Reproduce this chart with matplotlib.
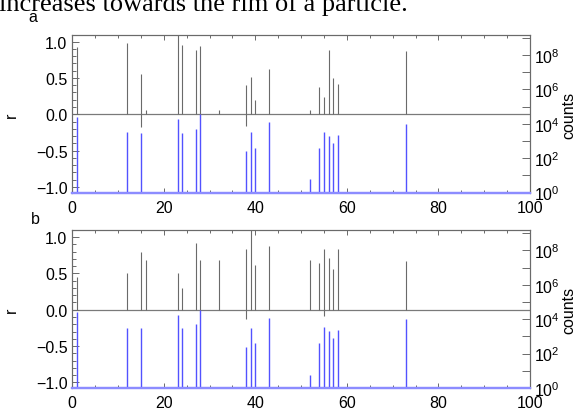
import matplotlib
matplotlib.use('Agg')
import matplotlib.pyplot as plt
from matplotlib.ticker import MultipleLocator, FixedLocator, FixedFormatter, NullLocator

plt.rcParams['font.family'] = ['Liberation Sans', 'DejaVu Sans']
plt.rcParams['mathtext.fontset'] = 'custom'
plt.rcParams['mathtext.rm'] = 'Liberation Sans'
plt.rcParams['mathtext.it'] = 'Liberation Sans'

# ---------------- data ----------------
x_pos = [1, 12, 15, 16, 23, 24, 27, 28, 32, 38, 39, 40, 43, 52, 54, 55, 56, 57, 58, 73]

r_a = [0.93, 0.98, 0.56, 0.06, 1.10, 0.96, 0.89, 0.94, 0.06, 0.41,
       0.52, 0.19, 0.62, 0.06, 0.38, 0.24, 0.89, 0.50, 0.42, 0.87]
r_b = [0.45, 0.51, 0.79, 0.69, 0.51, 0.30, 0.92, 0.69, 0.69, 0.83,
       1.10, 0.61, 0.88, 0.69, 0.64, 0.84, 0.71, 0.56, 0.83, 0.67]

neg_x_a = [15, 38]
neg_r_a = [-0.17, -0.16]
neg_x_b = [38, 55]
neg_r_b = [-0.13, -0.09]

count_x = [1, 12, 15, 23, 24, 27, 28, 38, 39, 40, 43, 52, 54, 55, 56, 57, 58, 73]
counts = [25000, 3200, 2900, 18000, 2900, 5200, 36000, 250, 3200, 410,
          12000, 6, 390, 3500, 2000, 780, 2300, 10000]

r_ticks = [-1.0, -0.5, 0.0, 0.5, 1.0]
r_ticklabels = ['\u22121.0', '\u22120.5', '0.0', '0.5', '1.0']
x_ticks = [0, 20, 40, 60, 80, 100]
count_ticks = [1e0, 1e2, 1e4, 1e6, 1e8]
count_ticklabels = [r'$\mathregular{10^{0}}$', r'$\mathregular{10^{2}}$',
                    r'$\mathregular{10^{4}}$', r'$\mathregular{10^{6}}$',
                    r'$\mathregular{10^{8}}$']
count_all_decades = [10.0 ** k for k in range(0, 10)]

caption = "increases towards the rim of a particle."
panel_labels = ['a', 'b']

# ---------------- style ----------------
FS = 11.5
BLACK = '#6a6a6a'
BLUE = '#5252ff'
SPINE = '#6a6a6a'
BASE = '#8c8cff'

fig = plt.figure(figsize=(5.79, 4.14), dpi=100)

W, H = 579.0, 414.0
left = 72.3 / W
width = (530.0 - 72.3) / W
panels = [
    (35.7, 193.7, r_a, neg_x_a, neg_r_a),
    (231.0, 389.3, r_b, neg_x_b, neg_r_b),
]

for i, (top_px, bot_px, rv, nx, nr) in enumerate(panels):
    ax = fig.add_axes([left, 1 - bot_px / H, width, (bot_px - top_px) / H])
    ax2 = ax.twinx()
    ax.set_xlim(0, 100)
    ax.set_ylim(-1.08, 1.096)
    ax2.set_yscale('log')
    ax2.set_ylim(10 ** -0.02, 10 ** 9.19)

    # zero line
    ax.axhline(0.0, color='#7a7a7a', lw=0.9, zorder=1)
    # r bars
    ax.vlines(x_pos, 0, rv, colors=BLACK, lw=0.8, zorder=2)
    ax.vlines(nx, nr, 0, colors=BLACK, lw=0.8, zorder=2)
    # count bars
    ax2.vlines(count_x, 10 ** -0.02, counts, colors=BLUE, lw=1.0, zorder=2)

    # spines
    for a in (ax, ax2):
        for s in a.spines.values():
            s.set_color(SPINE)
            s.set_linewidth(0.8)
        a.spines['bottom'].set_color(BASE)
        a.spines['bottom'].set_linewidth(1.6)

    # x ticks
    ax.set_xticks(x_ticks)
    ax.xaxis.set_minor_locator(MultipleLocator(5))
    ax.tick_params(axis='x', which='both', direction='in', top=True,
                   labelsize=FS, colors=SPINE, labelcolor='black', pad=5)
    ax.tick_params(axis='x', which='major', length=3.5, width=0.7)
    ax.tick_params(axis='x', which='minor', length=2.5, width=0.7)

    # left y ticks
    ax.set_yticks(r_ticks)
    ax.set_yticklabels(r_ticklabels)
    ax.yaxis.set_minor_locator(MultipleLocator(0.1))
    ax.tick_params(axis='y', which='both', direction='in', right=False,
                   labelsize=FS, colors=SPINE, labelcolor='black', pad=3.5)
    ax.tick_params(axis='y', which='major', length=5, width=0.7)
    ax.tick_params(axis='y', which='minor', length=2.8, width=0.7)

    # right log ticks
    ax2.yaxis.set_major_locator(FixedLocator(count_all_decades))
    labs = []
    for v in count_all_decades:
        if v in count_ticks:
            labs.append(count_ticklabels[count_ticks.index(v)])
        else:
            labs.append('')
    ax2.yaxis.set_major_formatter(FixedFormatter(labs))
    ax2.yaxis.set_minor_locator(NullLocator())
    ax2.tick_params(axis='y', which='major', direction='in', length=5.5,
                    width=0.7, labelsize=FS, colors=SPINE,
                    labelcolor='black', pad=3)

    # axis titles
    ymid = 1 - (top_px + 0.504 * (bot_px - top_px)) / H
    fig.text(11 / W, ymid, 'r', rotation=90, ha='center', va='center', fontsize=FS)
    fig.text(569 / W, ymid, 'counts', rotation=90, ha='center', va='center', fontsize=FS)

fig.text(33 / W, 1 - 18 / H, panel_labels[0], ha='center', va='center', fontsize=FS)
fig.text(35 / W, 1 - 220 / H, panel_labels[1], ha='center', va='center', fontsize=FS)

fig.text(-0.002, 1 - 11 / H, caption, family=['Liberation Serif', 'DejaVu Serif'],
         fontsize=19, ha='left', va='baseline')

fig.savefig('out.png', dpi=100)
